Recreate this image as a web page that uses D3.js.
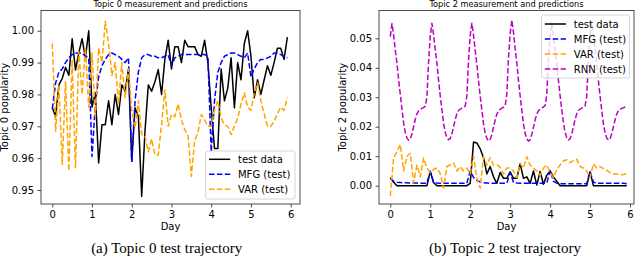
<!DOCTYPE html>
<html>
<head>
<meta charset="utf-8">
<script src="https://cdn.jsdelivr.net/npm/d3@7"></script>
<style>
  body { margin: 0; background: #fff; }
  svg { display: block; font-family: "DejaVu Sans", sans-serif; }
</style>
</head>
<body>
<svg id="chart" width="640" height="258"></svg>
<script>
// sampling step in days: 2h for most series, 1h for the RNN curve
const STEP = 1 / 12;
const RNN_STEP = 1 / 24;

const dayTicks = [0, 1, 2, 3, 4, 5, 6];
const topic0Ticks = [0.95, 0.96, 0.97, 0.98, 0.99, 1.00];
const topic2Ticks = [0.00, 0.01, 0.02, 0.03, 0.04, 0.05];

// Topic 0
const topic0Test = [
  0.9758, 0.9731, 0.983, 0.985, 0.9885, 0.986, 0.9975, 0.9877, 0.993, 0.9975, 0.9915, 1.000,
  0.976, 0.9805, 0.9585, 0.9705, 0.9705, 0.978, 0.9705, 0.980, 0.9737, 0.983, 0.981, 0.988,
  0.959, 0.9758, 0.973, 0.948, 0.9685, 0.983, 0.981, 0.984, 0.9878, 0.980, 0.991, 0.997,
  0.988, 0.995, 0.995, 0.990, 0.997, 0.995, 0.995, 0.995, 0.9925, 0.992, 0.997, 0.990,
  0.9758, 0.963, 0.963, 0.988, 0.978, 0.982, 0.9915, 0.9758, 0.990, 0.9846, 0.996, 1.000,
  0.992, 0.979, 0.9846, 0.980, 0.9846, 0.989, 0.986, 0.990, 0.9945, 0.9945, 0.991, 0.998
];
const topic0Mfg = [
  0.9755, 0.9836, 0.987, 0.988, 0.990, 0.9915, 0.9925, 0.993, 0.993, 0.993, 0.992, 0.9915,
  0.9605, 0.977, 0.9855, 0.989, 0.991, 0.9925, 0.993, 0.9925, 0.992, 0.991, 0.990, 0.9915,
  0.959, 0.978, 0.987, 0.9915, 0.9925, 0.9925, 0.992, 0.992, 0.9915, 0.9915, 0.992, 0.9925,
  0.989, 0.9915, 0.992, 0.9925, 0.9925, 0.9925, 0.9925, 0.9925, 0.9925, 0.9925, 0.9925, 0.992,
  0.962, 0.978, 0.987, 0.990, 0.992, 0.9925, 0.993, 0.993, 0.9925, 0.992, 0.9915, 0.993,
  0.9855, 0.988, 0.990, 0.991, 0.991, 0.9915, 0.992, 0.993, 0.993, 0.9925, 0.992, 0.9915
];
const topic0Var = [
  0.996, 0.9685, 0.983, 0.958, 0.984, 0.956, 0.991, 0.957, 0.9935, 0.980, 0.9946, 0.976,
  0.993, 0.973, 0.9946, 0.990, 1.003, 0.996, 0.986, 0.990, 0.977, 0.990, 0.979, 0.988,
  0.975, 0.9695, 0.978, 0.9674, 0.967, 0.962, 0.966, 0.961, 0.961, 0.9705, 0.9815, 0.970,
  0.9737, 0.973, 0.977, 0.972, 0.969, 0.967, 0.9543, 0.9655, 0.968, 0.9737, 0.972, 0.970,
  0.970, 0.975, 0.978, 0.9726, 0.9705, 0.970, 0.9674, 0.970, 0.9726, 0.977, 0.9805, 0.976,
  0.975, 0.9805, 0.9836, 0.978, 0.974, 0.970, 0.970, 0.9715, 0.974, 0.976, 0.975, 0.979
];

// Topic 2
const topic2Test = [
  0.0026, 0.0012, 0, 0, 0, 0, 0, 0, 0, 0, 0, 0,
  0.0049, 0.0010, 0, 0, 0, 0, 0, 0, 0, 0, 0, 0,
  0.0008, 0.0148, 0.0145, 0.0125, 0.0095, 0.0040, 0.0065, 0.0030, 0.0008, 0.0045, 0.0025, 0.0025,
  0.0047, 0.0025, 0.0025, 0.0075, 0.0025, 0.0030, 0.0008, 0.0050, 0.0002, 0.0048, 0.0005, 0.0035,
  0.0050, 0.0030, 0.0015, 0, 0, 0, 0, 0, 0, 0, 0, 0,
  0.0047, 0, 0, 0, 0, 0, 0, 0, 0, 0, 0, 0
];
const topic2Mfg = [
  0.0026, 0.0015, 0.0012, 0.0011, 0.0010, 0.0010, 0.0009, 0.0009, 0.0009, 0.0008, 0.0008, 0.0009,
  0.0048, 0.0012, 0.0009, 0.0008, 0.0008, 0.0008, 0.0008, 0.0008, 0.0008, 0.0008, 0.0008, 0.0008,
  0.0050, 0.0028, 0.0018, 0.0013, 0.0010, 0.0009, 0.0008, 0.0008, 0.0008, 0.0008, 0.0008, 0.0008,
  0.0045, 0.0012, 0.0009, 0.0008, 0.0008, 0.0008, 0.0008, 0.0008, 0.0008, 0.0008, 0.0008, 0.0008,
  0.0052, 0.0015, 0.0009, 0.0007, 0.0007, 0.0007, 0.0007, 0.0007, 0.0007, 0.0007, 0.0007, 0.0007,
  0.0049, 0.0012, 0.0009, 0.0008, 0.0008, 0.0008, 0.0008, 0.0008, 0.0008, 0.0008, 0.0008, 0.0007
];
const topic2Var = [
  -0.0035, 0.0095, 0.0115, 0.0140, 0.0050, 0.0100, 0.0110, 0.0010, 0.0070, 0.0030, 0.0094, 0.0060,
  0.0045, 0.0055, 0.0060, 0.0040, -0.0008, 0.0065, 0.0071, 0.0077, 0.0050, 0.0065, 0.0050, 0.0060,
  0.0040, 0.0100, 0.0025, -0.0008, 0.0098, 0.0070, 0.0095, 0.0070, 0.0072, 0.0062, 0.0040, 0.0060,
  0.0060, 0.0050, 0.0027, 0.0075, 0.0060, 0.0098, 0.0070, 0.0060, 0.0050, 0.0035, 0.0060, 0.0070,
  0.0045, 0.0027, 0.0055, 0.0070, 0.0084, 0.0088, 0.0078, 0.0085, 0.0090, 0.0065, 0.0060, 0.0050,
  0.0027, 0.0075, 0.0060, 0.0065, 0.0058, 0.0052, 0.0045, 0.0040, 0.0040, 0.0037, 0.0038, 0.0040
];
const topic2Rnn = [
  0.0506, 0.0550, 0.0510, 0.0460, 0.0415, 0.0360, 0.0310, 0.0260, 0.0212, 0.0180, 0.0162, 0.0154,
  0.0158, 0.0175, 0.0200, 0.0225, 0.0244, 0.0254, 0.0259, 0.0262, 0.0265, 0.0270, 0.0300, 0.0420,
  0.0508, 0.0551, 0.0512, 0.0462, 0.0415, 0.0358, 0.0305, 0.0258, 0.0212, 0.0181, 0.0163, 0.0156,
  0.0160, 0.0176, 0.0200, 0.0224, 0.0244, 0.0255, 0.0260, 0.0263, 0.0266, 0.0270, 0.0305, 0.0425,
  0.0510, 0.0551, 0.0510, 0.0460, 0.0412, 0.0356, 0.0304, 0.0256, 0.0210, 0.0178, 0.0160, 0.0152,
  0.0157, 0.0174, 0.0199, 0.0223, 0.0243, 0.0254, 0.0259, 0.0263, 0.0266, 0.0271, 0.0310, 0.0435,
  0.0515, 0.0562, 0.0520, 0.0466, 0.0416, 0.0358, 0.0305, 0.0256, 0.0210, 0.0177, 0.0159, 0.0151,
  0.0156, 0.0173, 0.0198, 0.0223, 0.0243, 0.0254, 0.0260, 0.0264, 0.0267, 0.0272, 0.0308, 0.0430,
  0.0508, 0.0552, 0.0512, 0.0462, 0.0414, 0.0358, 0.0306, 0.0258, 0.0213, 0.0181, 0.0163, 0.0155,
  0.0159, 0.0175, 0.0200, 0.0224, 0.0244, 0.0255, 0.0260, 0.0263, 0.0266, 0.0270, 0.0304, 0.0428,
  0.0510, 0.0553, 0.0512, 0.0461, 0.0413, 0.0357, 0.0305, 0.0257, 0.0211, 0.0180, 0.0162, 0.0155,
  0.0159, 0.0175, 0.0199, 0.0223, 0.0243, 0.0254, 0.0259, 0.0262, 0.0264, 0.0267, 0.0268
];

const svg = d3.select('#chart');

function drawPanel(p) {
  const g = svg.append('g');
  const x = d3.scaleLinear().domain(p.xDomain).range([p.left, p.right]);
  const y = d3.scaleLinear().domain(p.yDomain).range([p.bottom, p.top]);

  const clipId = 'clip-' + p.id;
  svg.append('clipPath').attr('id', clipId).append('rect')
    .attr('x', p.left).attr('y', p.top)
    .attr('width', p.right - p.left).attr('height', p.bottom - p.top);

  const line = d3.line().x(d => x(d[0])).y(d => y(d[1]));

  p.series.forEach(s => {
    g.append('path')
      .datum(s.values.map((v, i) => [i * s.step, v]))
      .attr('d', line)
      .attr('fill', 'none')
      .attr('stroke', s.color)
      .attr('stroke-width', 1.5)
      .attr('stroke-linejoin', 'round')
      .attr('stroke-dasharray', s.dashed ? '5.5,2.4' : null)
      .attr('clip-path', `url(#${clipId})`);
  });

  // frame
  g.append('rect')
    .attr('x', p.left).attr('y', p.top)
    .attr('width', p.right - p.left).attr('height', p.bottom - p.top)
    .attr('fill', 'none').attr('stroke', '#222').attr('stroke-width', 0.8);

  // axes
  const xAxis = g.append('g')
    .attr('transform', `translate(0,${p.bottom})`)
    .call(d3.axisBottom(x).tickValues(dayTicks).tickFormat(d3.format('d'))
      .tickSize(3.5).tickPadding(3));
  const yAxis = g.append('g')
    .attr('transform', `translate(${p.left},0)`)
    .call(d3.axisLeft(y).tickValues(p.yTicks).tickFormat(d3.format('.2f'))
      .tickSize(3.5).tickPadding(3.5));
  [xAxis, yAxis].forEach(a => {
    a.select('.domain').remove();
    a.attr('font-family', '"DejaVu Sans", sans-serif').attr('font-size', 10);
    a.selectAll('line').attr('stroke', '#222').attr('stroke-width', 0.8);
    a.selectAll('text').attr('fill', '#000');
  });

  const cx = (p.left + p.right) / 2;
  g.append('text').attr('x', cx).attr('y', 230)
    .attr('text-anchor', 'middle').attr('font-size', 10).text('Day');
  g.append('text')
    .attr('transform', `translate(${p.left - 33.5},${(p.top + p.bottom) / 2}) rotate(-90)`)
    .attr('text-anchor', 'middle').attr('font-size', 10).text(p.yLabel);
  g.append('text').attr('x', cx).attr('y', 6.5)
    .attr('text-anchor', 'middle').attr('font-size', 8.2).text(p.title);
  g.append('text').attr('x', p.captionX).attr('y', 252.5)
    .attr('text-anchor', 'middle').attr('font-family', '"Liberation Serif", serif')
    .attr('font-size', 15).text(p.caption);

  // legend
  const lg = g.append('g').attr('transform', `translate(${p.legend.x},${p.legend.y})`);
  lg.append('rect').attr('width', p.legend.w).attr('height', p.legend.h)
    .attr('rx', 2).attr('fill', '#fff').attr('fill-opacity', 0.8)
    .attr('stroke', '#cccccc').attr('stroke-width', 0.8);
  p.series.forEach((s, i) => {
    const ry = p.legend.first + i * 15;
    lg.append('line').attr('x1', 3.3).attr('x2', 24.5).attr('y1', ry).attr('y2', ry)
      .attr('stroke', s.color).attr('stroke-width', 1.5)
      .attr('stroke-dasharray', s.dashed ? '5.5,2.4' : null);
    lg.append('text').attr('x', 32.3).attr('y', ry).attr('dy', '0.35em')
      .attr('font-size', 10).text(s.name);
  });
}

drawPanel({
  id: 'a', left: 41, right: 300, top: 10.5, bottom: 204,
  xDomain: [-0.2844, 6.235], yDomain: [0.94561, 1.00635], yTicks: topic0Ticks,
  title: 'Topic 0 measurement and predictions', yLabel: 'Topic 0 popularity',
  caption: '(a) Topic 0 test trajectory', captionX: 166.7,
  legend: { x: 205.7, y: 151, w: 89.3, h: 48, first: 8.3 },
  series: [
    { name: 'test data', values: topic0Test, step: STEP, color: '#000000', dashed: false },
    { name: 'MFG (test)', values: topic0Mfg, step: STEP, color: '#0000ff', dashed: true },
    { name: 'VAR (test)', values: topic0Var, step: STEP, color: '#ffa500', dashed: true }
  ]
});

drawPanel({
  id: 'b', left: 379, right: 634, top: 10.5, bottom: 204,
  xDomain: [-0.2829, 6.100], yDomain: [-0.006208, 0.05943], yTicks: topic2Ticks,
  title: 'Topic 2 measurement and predictions', yLabel: 'Topic 2 popularity',
  caption: '(b) Topic 2 test trajectory', captionX: 505,
  legend: { x: 541.5, y: 15, w: 88, h: 63, first: 9 },
  series: [
    { name: 'test data', values: topic2Test, step: STEP, color: '#000000', dashed: false },
    { name: 'MFG (test)', values: topic2Mfg, step: STEP, color: '#0000ff', dashed: true },
    { name: 'VAR (test)', values: topic2Var, step: STEP, color: '#ffa500', dashed: true },
    { name: 'RNN (test)', values: topic2Rnn, step: RNN_STEP, color: '#bf00bf', dashed: true }
  ]
});
</script>
</body>
</html>
